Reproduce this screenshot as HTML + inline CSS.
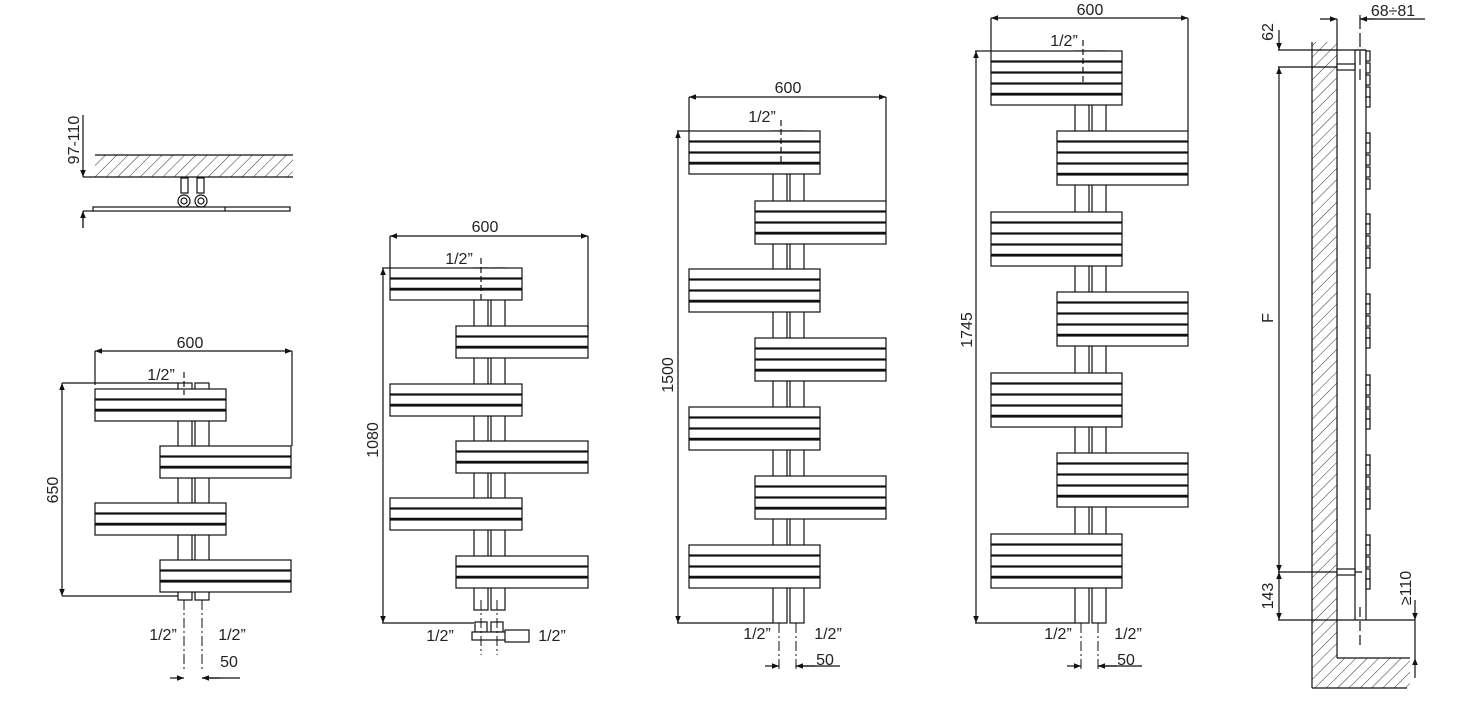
<!DOCTYPE html>
<html><head><meta charset="utf-8"><style>
html,body{margin:0;padding:0;background:#fff;}
svg{display:block;}
text{font-family:"Liberation Sans",sans-serif;font-size:16px;fill:#222;}
</style></head><body>
<svg id="s" width="1458" height="704" viewBox="0 0 1458 704" xmlns="http://www.w3.org/2000/svg">
<defs>
<pattern id="h" width="8" height="8" patternUnits="userSpaceOnUse" patternTransform="rotate(45)">
<line x1="0" y1="0" x2="0" y2="8" stroke="#333" stroke-width="1"/>
</pattern>
<marker id="a" viewBox="0 0 10 10" refX="10" refY="5" markerWidth="11" markerHeight="7" orient="auto-start-reverse" markerUnits="userSpaceOnUse">
<path d="M0,1 L10,5 L0,9 z" fill="#111"/>
</marker>
</defs>
<g id="g" stroke="#111" stroke-width="1.2" fill="none"></g>
<text x="79" y="140" transform="rotate(-90 79 140)" text-anchor="middle">97-110</text>
<text x="190" y="348" text-anchor="middle">600</text>
<text x="161" y="380" text-anchor="middle">1/2”</text>
<text x="58" y="490" transform="rotate(-90 58 490)" text-anchor="middle">650</text>
<text x="163" y="640" text-anchor="middle">1/2”</text>
<text x="232" y="640" text-anchor="middle">1/2”</text>
<text x="229" y="667" text-anchor="middle">50</text>

<text x="485" y="232" text-anchor="middle">600</text>
<text x="459" y="264" text-anchor="middle">1/2”</text>
<text x="378" y="440" transform="rotate(-90 378 440)" text-anchor="middle">1080</text>
<text x="440" y="641" text-anchor="middle">1/2”</text>
<text x="552" y="641" text-anchor="middle">1/2”</text>

<text x="788" y="93" text-anchor="middle">600</text>
<text x="762" y="122" text-anchor="middle">1/2”</text>
<text x="673" y="375" transform="rotate(-90 673 375)" text-anchor="middle">1500</text>
<text x="757" y="639" text-anchor="middle">1/2”</text>
<text x="828" y="639" text-anchor="middle">1/2”</text>
<text x="825" y="665" text-anchor="middle">50</text>

<text x="1090" y="15" text-anchor="middle">600</text>
<text x="1064" y="46" text-anchor="middle">1/2”</text>
<text x="972" y="330" transform="rotate(-90 972 330)" text-anchor="middle">1745</text>
<text x="1058" y="639" text-anchor="middle">1/2”</text>
<text x="1128" y="639" text-anchor="middle">1/2”</text>
<text x="1126" y="665" text-anchor="middle">50</text>

<text x="1393" y="16" text-anchor="middle">68÷81</text>
<text x="1273" y="32" transform="rotate(-90 1273 32)" text-anchor="middle">62</text>
<text x="1273" y="318" transform="rotate(-90 1273 318)" text-anchor="middle">F</text>
<text x="1273" y="596" transform="rotate(-90 1273 596)" text-anchor="middle">143</text>
<text x="1411" y="588" transform="rotate(-90 1411 588)" text-anchor="middle">≥110</text>
</svg>
<script>
var g=document.getElementById('g'),NS='http://www.w3.org/2000/svg';
function el(t,o){var e=document.createElementNS(NS,t);for(var k in o)e.setAttribute(k,o[k]);g.appendChild(e);return e;}
function L(x1,y1,x2,y2,ex){var o={x1:x1,y1:y1,x2:x2,y2:y2};for(var k in ex)o[k]=ex[k];return el('line',o);}
function R(x,y,w,h,ex){var o={x:x,y:y,width:w,height:h,fill:'#fff'};for(var k in ex)o[k]=ex[k];return el('rect',o);}
function D(x1,y1,x2,y2){return L(x1,y1,x2,y2,{'marker-start':'url(#a)','marker-end':'url(#a)'});}
function dd(x1,y1,x2,y2){return L(x1,y1,x2,y2,{'stroke-dasharray':'10,3,2,3','stroke-width':1});}
function rad(o){
 R(o.px,o.top,o.pw,o.bot-o.top);R(o.px+o.pw+3,o.top,o.pw,o.bot-o.top);
 o.groups.forEach(function(gr){
  var x=gr[1]?o.xr:o.xl,y=gr[0],h=o.bh,n=o.n;
  for(var j=0;j<n;j++){R(x,y+j*(h+1),o.w,h);}
  L(x,y+(n-1)*(h+1)-1,x+o.w,y+(n-1)*(h+1)-1,{'stroke-width':2.5});
 });
}
rad({px:178,pw:14,top:383,bot:600,xl:95,xr:160,w:131,bh:10,n:3,groups:[[389,0],[446,1],[503,0],[560,1]]});
L(62,383,178,383);L(62,596,178,596);D(62,383,62,596);
D(95,351,292,351);L(95,351,95,385);L(292,351,292,446);
L(184,372,184,395,{'stroke-dasharray':'6,3'});
dd(184,600,184,672);dd(202,600,202,672);
L(170,678,184,678,{'marker-end':'url(#a)'});L(202,678,240,678);L(220,678,202,678,{'marker-end':'url(#a)'});
R(95,155,198,22,{fill:'url(#h)',stroke:'none'});L(95,155,293,155);L(83,177,293,177);
R(93,207,197,4);L(225,207,225,211);
R(181,178,7,15);R(197,178,7,15);
el('circle',{cx:184,cy:201,r:6});el('circle',{cx:184,cy:201,r:3});
el('circle',{cx:201,cy:201,r:6});el('circle',{cx:201,cy:201,r:3});
L(83,115,83,177,{'marker-end':'url(#a)'});L(83,211,83,228);L(83,228,83,211,{'marker-end':'url(#a)'});L(83,211,93,211);
rad({px:474,pw:14,top:268,bot:610,xl:390,xr:456,w:132,bh:10,n:3,groups:[[268,0],[326,1],[384,0],[441,1],[498,0],[556,1]]});
L(382,268,390,268);L(382,623,474,623);D(383,268,383,623);
D(390,236,588,236);L(390,236,390,268);L(588,236,588,330);
L(481,258,481,300,{'stroke-dasharray':'6,3'});
R(475,622,12,10);R(491,622,12,10);R(472,632,44,8);R(505,630,24,12);
dd(481,600,481,655);dd(497,600,497,655);
rad({px:773,pw:14,top:131,bot:623,xl:689,xr:755,w:131,bh:10,n:4,groups:[[131,0],[201,1],[269,0],[338,1],[407,0],[476,1],[545,0]]});
L(677,131,689,131);L(677,623,773,623);D(678,131,678,623);
D(689,97,886,97);L(689,97,689,131);L(886,97,886,201);
L(781,120,781,162,{'stroke-dasharray':'6,3'});
dd(779,623,779,670);dd(796,623,796,670);
L(765,666,779,666,{'marker-end':'url(#a)'});L(796,666,840,666);L(815,666,796,666,{'marker-end':'url(#a)'});
rad({px:1075,pw:14,top:51,bot:623,xl:991,xr:1057,w:131,bh:10,n:5,groups:[[51,0],[131,1],[212,0],[292,1],[373,0],[453,1],[534,0]]});
L(975,51,991,51);L(975,623,1075,623);D(976,51,976,623);
D(991,18,1188,18);L(991,18,991,51);L(1188,18,1188,131);
L(1083,40,1083,82,{'stroke-dasharray':'6,3'});
dd(1081,623,1081,670);dd(1098,623,1098,670);
L(1067,666,1081,666,{'marker-end':'url(#a)'});L(1098,666,1142,666);L(1117,666,1098,666,{'marker-end':'url(#a)'});
el('path',{d:'M1312,42 L1337,42 L1337,658 L1410,658 L1410,688 L1312,688 Z',fill:'url(#h)',stroke:'none'});
L(1312,42,1312,688);L(1337,42,1337,658);L(1337,658,1410,658);L(1312,688,1407,688);
L(1355,50,1355,620);L(1366,50,1366,620);L(1355,50,1366,50);
[51,63,75,87,97,133,143,155,167,179,214,224,236,248,258,294,304,316,328,338,375,385,397,409,419,455,465,477,489,499,535,545,557,569,579].forEach(function(y){R(1366,y,4,10);});
L(1320,19,1337,19,{'marker-end':'url(#a)'});L(1337,19,1337,42);L(1360,19,1425,19);L(1375,19,1360,19,{'marker-end':'url(#a)'});
L(1360,15,1360,80,{'stroke-dasharray':'14,4'});
L(1278,50,1366,50);L(1278,67,1355,67);R(1337,64,18,6);
L(1279,30,1279,50,{'marker-end':'url(#a)'});D(1279,67,1279,572);
L(1278,572,1362,572);R(1337,569,18,6);L(1278,620,1415,620);D(1279,572,1279,620);
L(1360,607,1360,645,{'stroke-dasharray':'10,4'});
L(1415,600,1415,620,{'marker-end':'url(#a)'});L(1415,620,1415,658);L(1415,678,1415,658,{'marker-end':'url(#a)'});
</script>
</body></html>
